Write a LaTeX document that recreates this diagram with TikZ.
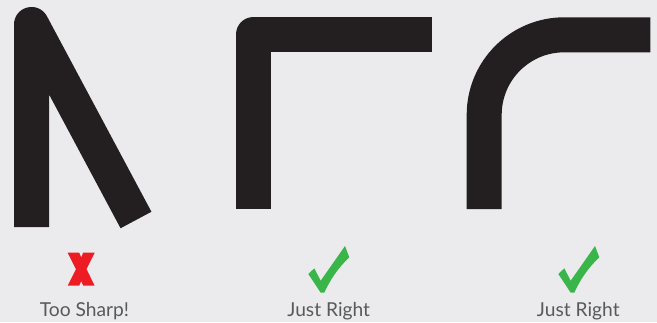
\documentclass[tikz,border=0pt]{standalone}
\usepackage{fontspec}
\setmainfont{Lato}
\usepackage{xcolor}
\definecolor{Paper}{HTML}{EBEBED}
\definecolor{Ink}{HTML}{231F20}
\definecolor{Label}{HTML}{58595B}
\definecolor{Wrong}{HTML}{ED1C24}
\definecolor{Good}{HTML}{39B54A}
\usepackage{tikz}
\usetikzlibrary{positioning}

\begin{document}
\begin{tikzpicture}[
  x=1pt,y=-1pt,
  stroke/.style={draw=Ink,line width=35pt,line cap=butt},
  caption/.style={anchor=base,text=Label,inner sep=0pt,
    font=\fontsize{19.2}{23}\selectfont},
  tick/.style={fill=Good},
  cross/.style={fill=Wrong}
]
% pixel grid of the reference: 657 x 322, y runs downwards
\fill[Paper] (0,0) rectangle (657,322);
\useasboundingbox (0,0) rectangle (657,322);

% three ways to turn a corner
\draw[stroke,line join=round] (31.5,227) -- (31.5,24.5) -- (136,220);
\draw[stroke,line join=round] (253,209) -- (253,34.8) -- (431.7,34.8);
\draw[stroke,rounded corners=80pt] (484.2,209) -- (484.2,34.8) -- (650.3,34.8);

% verdicts
\node[caption] (sharp) at (84.5,316) {Too Sharp!};
\node[caption] (right) at (328.7,316) {Just Right};
\node[caption] (round) at (578.3,316) {Just Right};

\fill[cross] (67.7,252.7) -- ++(11.5,0) -- ++(2,4.6) -- ++(2,-4.6) -- ++(11.5,0)
  -- ++(-8.2,16.5) -- ++(8.2,16.5) -- ++(-11.5,0) -- ++(-2,-4.6) -- ++(-2,4.6)
  -- ++(-11.5,0) -- ++(8.2,-16.5) -- cycle;
\foreach \dx in {0,250} {
  \fill[tick,xshift=\dx pt] (308.3,274) -- (314.3,268.3) -- (320.7,280.7)
    -- (345,246) -- (349.3,257.3) .. controls (338,268) and (330,280) .. (324.3,292.7)
    -- (320.7,292.7) -- cycle;
}
\end{tikzpicture}
\end{document}
